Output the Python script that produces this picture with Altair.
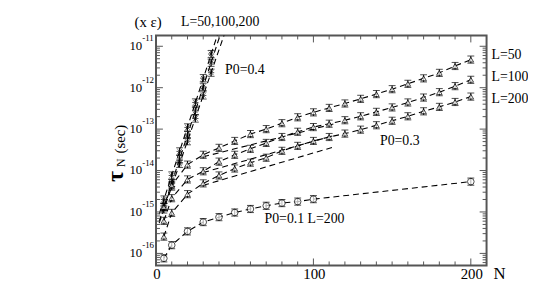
import altair as alt
import pandas as pd

# ---------------- data ----------------
N_star = [5, 10, 15, 20, 25, 30, 35]
star_L50 = [2.0e-15, 7.6e-15, 2.9e-14, 1.1e-13, 4.4e-13, 1.7e-12, 6.5e-12]
star_L100 = [1.32e-15, 5.0e-15, 1.9e-14, 7.2e-14, 2.75e-13, 1.05e-12, 4.0e-12]
star_L200 = [1.15e-15, 4.1e-15, 1.45e-14, 5.1e-14, 1.8e-13, 6.5e-13, 2.3e-12]
# straight fit lines for P0=0.4 (end points)
fit4_N = [2, 48]
fit4_L50 = [8.9e-16, 2.1e-10]
fit4_L100 = [5.9e-16, 1.3e-10]
fit4_L200 = [5.4e-16, 6.2e-11]

N_tri = [5, 10, 20, 30, 40, 50, 60, 70, 80, 90, 100, 110, 120, 130, 140, 150, 160, 170, 180, 190, 200]
tri_L50 = [1.31e-15, 4.4e-15, 1.39e-14, 2.40e-14, 3.53e-14, 5.18e-14, 7.6e-14, 1.0e-13, 1.39e-13, 1.93e-13,
           2.54e-13, 3.25e-13, 4.16e-13, 5.38e-13, 7.0e-13, 9.2e-13, 1.24e-12, 1.68e-12, 2.28e-12, 3.34e-12, 4.77e-12]
tri_L100 = [6.1e-16, 2.15e-15, 6.1e-15, 9.6e-15, 1.64e-14, 2.40e-14, 3.34e-14, 4.64e-14, 6.45e-14, 8.63e-14,
            1.12e-13, 1.35e-13, 1.64e-13, 2.04e-13, 2.61e-13, 3.34e-13, 4.4e-13, 5.78e-13, 7.8e-13, 1.09e-12, 1.55e-12]
tri_L200 = [2.54e-16, 9.5e-16, 2.69e-15, 4.9e-15, 7.6e-15, 1.12e-14, 1.55e-14, 2.04e-14, 2.99e-14, 3.94e-14,
            5.18e-14, 6.45e-14, 7.8e-14, 9.7e-14, 1.24e-13, 1.59e-13, 2.04e-13, 2.69e-13, 3.44e-13, 4.52e-13, 6.1e-13]
# straight mid-range fit lines for P0=0.3 (end points)
fit3_N = [30, 114]
fit3_L50 = [2.15e-14, 1.37e-13]
fit3_L100 = [8.95e-15, 7.2e-14]
fit3_L200 = [4.4e-15, 3.8e-14]

N_circ = [5, 10, 20, 30, 40, 50, 60, 70, 80, 90, 100, 200]
circ_L200 = [7.6e-17, 1.58e-16, 3.4e-16, 5.7e-16, 7.5e-16, 9.7e-16, 1.18e-15, 1.41e-15, 1.64e-15, 1.78e-15, 2.04e-15, 5.4e-15]

ERR = 1.22  # multiplicative error-bar half width

# ---------------- layout ----------------
W, H = 335, 233
LOG_TOP, LOG_BOT = -10.74, -16.29
FONT = "Liberation Serif"
FRAME = "#555555"

xs = alt.Scale(domain=[0, 210], nice=False, zero=False)
ys = alt.Scale(type="log", domain=[10 ** LOG_BOT, 10 ** LOG_TOP], nice=False)


def frame(n, v, group):
    return pd.DataFrame({"N": n, "tau": v, "g": [group] * len(n),
                         "lo": [x / ERR for x in v], "hi": [x * ERR for x in v]})


star_df = pd.concat([frame(N_star, star_L50, "50"), frame(N_star, star_L100, "100"),
                     frame(N_star, star_L200, "200")])
tri_df = pd.concat([frame(N_tri, tri_L50, "50"), frame(N_tri, tri_L100, "100"),
                    frame(N_tri, tri_L200, "200")])
circ_df = frame(N_circ, circ_L200, "200")
fit4_df = pd.concat([frame(fit4_N, fit4_L50, "50"), frame(fit4_N, fit4_L100, "100"),
                     frame(fit4_N, fit4_L200, "200")])
fit3_df = pd.concat([frame(fit3_N, fit3_L50, "50"), frame(fit3_N, fit3_L100, "100"),
                     frame(fit3_N, fit3_L200, "200")])

X = alt.X("N:Q", scale=xs, axis=None)
Y = alt.Y("tau:Q", scale=ys, axis=None)


def dashed(df):
    return alt.Chart(df).mark_line(strokeDash=[6, 4], color="black", strokeWidth=1.1, clip=True).encode(
        x=X, y=Y, detail="g:N")


def errbars(df, cap):
    bar = alt.Chart(df).mark_rule(color="black", strokeWidth=1).encode(
        x=X, y=alt.Y("lo:Q", scale=ys, axis=None), y2="hi:Q")
    lo = alt.Chart(df).mark_tick(orient="horizontal", color="black", size=cap, thickness=1).encode(
        x=X, y=alt.Y("lo:Q", scale=ys, axis=None))
    hi = alt.Chart(df).mark_tick(orient="horizontal", color="black", size=cap, thickness=1).encode(
        x=X, y=alt.Y("hi:Q", scale=ys, axis=None))
    return [bar, lo, hi]


STAR = "M0,-1L0,1M-1,0L1,0M-0.7,-0.7L0.7,0.7M-0.7,0.7L0.7,-0.7"

layers = []
layers.append(dashed(fit4_df))
layers.append(dashed(tri_df))
layers.append(dashed(fit3_df))
layers.append(dashed(circ_df))
layers += errbars(star_df, 7)
layers += errbars(tri_df, 7)
layers += errbars(circ_df, 7)
layers.append(alt.Chart(star_df).mark_point(shape=STAR, filled=False, color="black", size=40, strokeWidth=1).encode(x=X, y=Y))
layers.append(alt.Chart(tri_df).mark_point(shape="triangle-up", filled=True, fill="white", stroke="black", size=32, strokeWidth=1).encode(x=X, y=Y))
layers.append(alt.Chart(circ_df).mark_point(shape="circle", filled=True, fill="white", stroke="black", size=45, strokeWidth=1).encode(x=X, y=Y))

# ---------------- inward ticks ----------------
x_major = [0, 100, 200]
x_minor = [v for v in range(0, 211, 10) if v not in x_major]
decades = [-16, -15, -14, -13, -12, -11]
y_major = [10.0 ** d for d in decades]
y_minor = [m * 10.0 ** d for d in range(-17, -10) for m in range(2, 10)
           if 10 ** LOG_BOT < m * 10.0 ** d < 10 ** LOG_TOP]

xm = pd.DataFrame({"N": x_major})
xn = pd.DataFrame({"N": x_minor})
ym = pd.DataFrame({"tau": y_major})
yn = pd.DataFrame({"tau": y_minor})
tick_style = dict(color=FRAME, strokeWidth=1)
for df, ln in ((xm, 7), (xn, 4)):
    layers.append(alt.Chart(df).mark_rule(**tick_style).encode(x=X, y=alt.value(H), y2=alt.value(H - ln)))
    layers.append(alt.Chart(df).mark_rule(**tick_style).encode(x=X, y=alt.value(0), y2=alt.value(ln)))
for df, ln in ((ym, 7), (yn, 4)):
    layers.append(alt.Chart(df).mark_rule(**tick_style).encode(y=Y, x=alt.value(0), x2=alt.value(ln)))
    layers.append(alt.Chart(df).mark_rule(**tick_style).encode(y=Y, x=alt.value(W), x2=alt.value(W - ln)))

# ---------------- tick labels ----------------
xl = pd.DataFrame({"N": x_major, "t": [str(v) for v in x_major]})
layers.append(alt.Chart(xl).mark_text(font=FONT, fontSize=15, baseline="middle", dx=1).encode(
    x=X, y=alt.value(242), text="t:N"))
yl = pd.DataFrame({"tau": y_major, "b": ["10"] * len(decades), "e": [str(d) for d in decades]})
layers.append(alt.Chart(yl).mark_text(font=FONT, fontSize=13, align="right", baseline="middle").encode(
    y=Y, x=alt.value(-14), text="b:N"))
layers.append(alt.Chart(yl).mark_text(font=FONT, fontSize=9, align="left", baseline="middle", dy=-8).encode(
    y=Y, x=alt.value(-14), text="e:N"))

# ---------------- annotations ----------------
def label(txt, x, y, size=14, align="left", **kw):
    return alt.Chart(pd.DataFrame({"t": [txt]})).mark_text(
        font=FONT, fontSize=size, align=align, baseline="middle", color="black", **kw).encode(
        x=alt.value(x), y=alt.value(y), text="t:N")


layers.append(label("N", 342, 242, 17))
layers.append(label("(x \u03b5)", -8, -14, 15, align="center"))
layers.append(label("L=50,100,200", 65, -14, 14, align="center"))
layers.append(label("P0=0.4", 70, 35, 14))
layers.append(label("P0=0.3", 227, 107, 14))
layers.append(label("P0=0.1  L=200", 110, 186, 14))
layers.append(label("L=50", 340, 20, 14))
layers.append(label("L=100", 340, 42, 14))
layers.append(label("L=200", 340, 64, 14))
# y title (rotated)
layers.append(label("\u03c4", -40, 143, 24, align="center", angle=270, fontWeight="bold"))
layers.append(label("N", -35, 129, 12, align="center", angle=270))
layers.append(label("(sec)", -36, 105, 15, align="center", angle=270))

chart = alt.layer(*layers).properties(
    width=W, height=H,
    padding={"left": 150, "top": 26, "right": 42, "bottom": 19},
    autosize=alt.AutoSizeParams(type="none"),
).configure_view(stroke=FRAME, strokeWidth=2)

chart.save("out.html", embed_options={"renderer": "svg", "actions": False})
